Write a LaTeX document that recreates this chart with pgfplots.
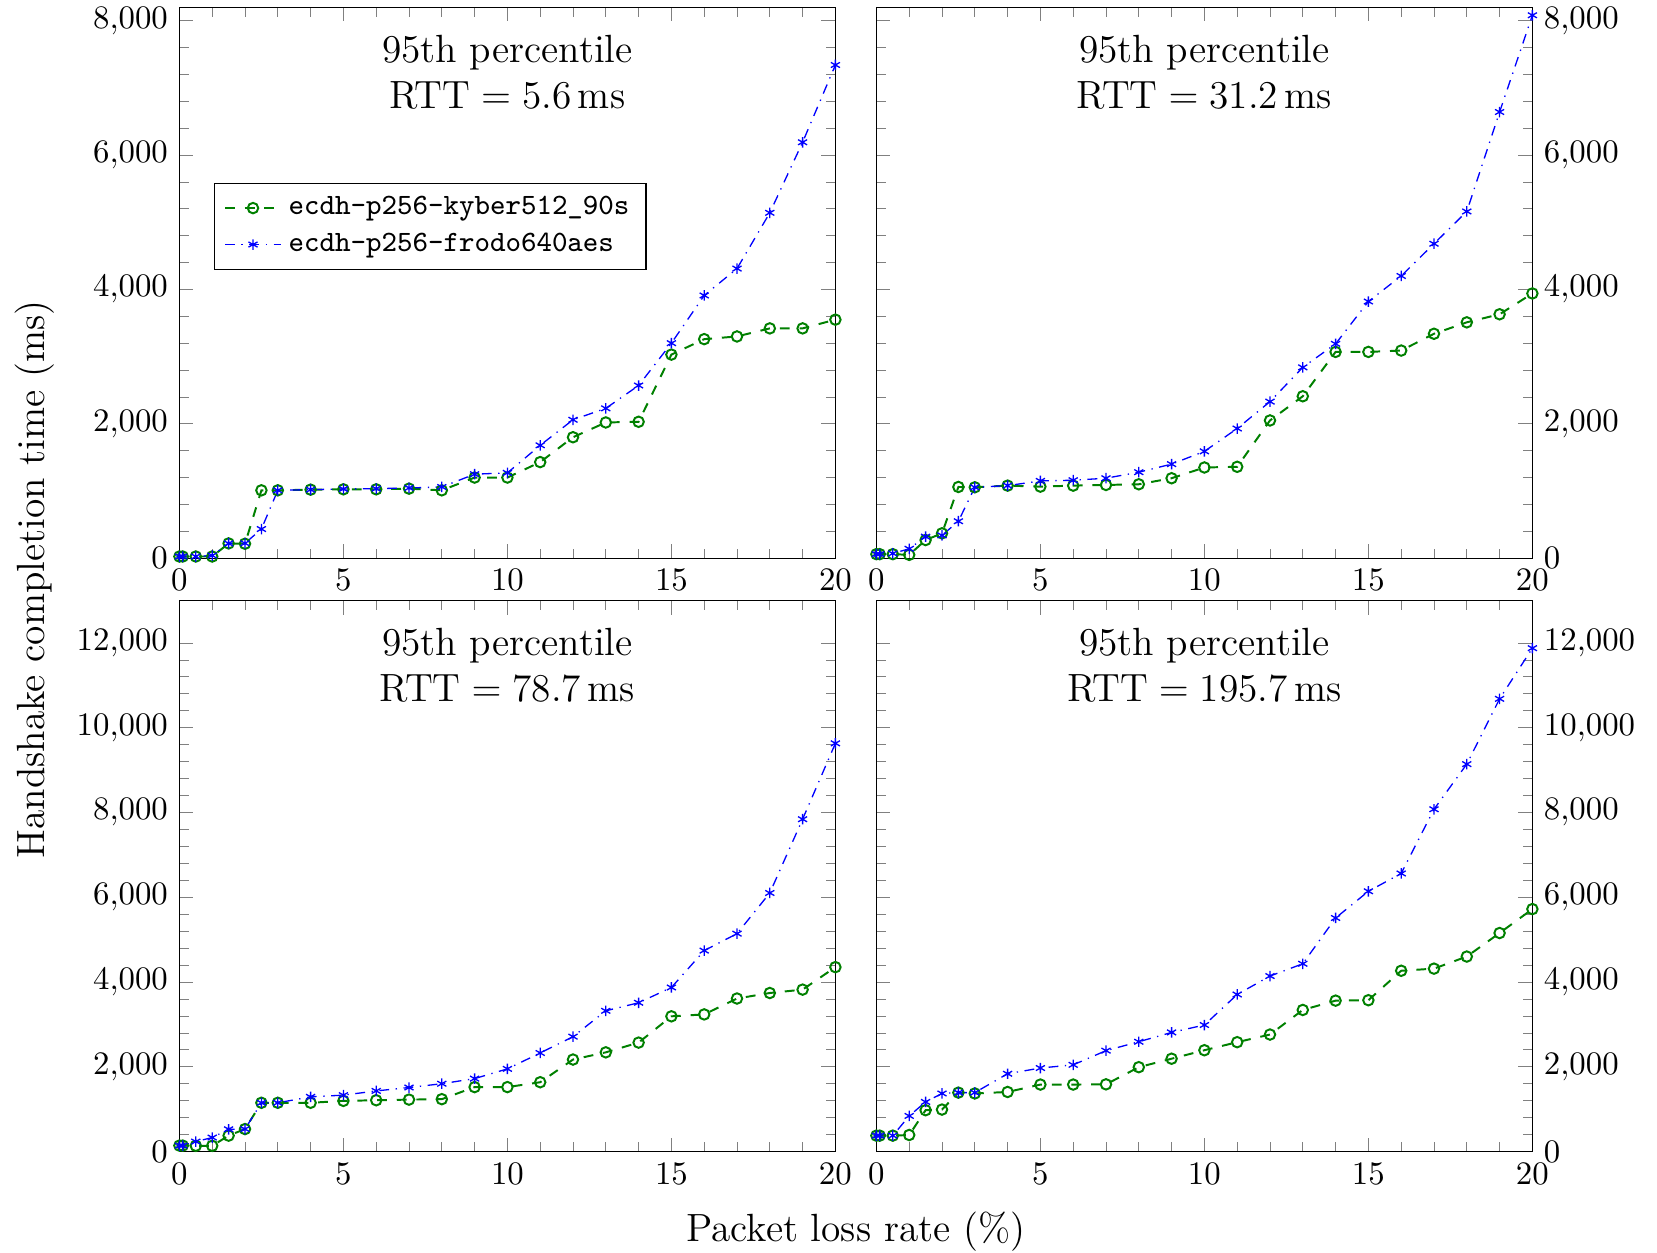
\documentclass[border=0pt]{standalone}
\usepackage{pgfplots}
\usepackage{pgfplotstable}
\usepgfplotslibrary{groupplots}
\usetikzlibrary{calc}
\pgfplotsset{compat=1.18}

% 95th percentile handshake times (ms) vs packet loss (%)
\pgfplotstableread{
x    kyber frodo
0    25    25
0.1  25    25
0.5  25    25
1    25    40
1.5  220   220
2    215   222
2.5  1010  434
3    1010  1010
4    1020  1020
5    1025  1030
6    1025  1035
7    1035  1045
8    1010  1060
9    1200  1250
10   1200  1270
11   1430  1680
12   1800  2060
13   2020  2230
14   2030  2570
15   3030  3200
16   3260  3910
17   3300  4310
18   3420  5140
19   3420  6190
20   3550  7340
}\rttA
\pgfplotstableread{
x    kyber frodo
0    60    60
0.1  60    60
0.5  60    70
1    50    140
1.5  270   320
2    370   340
2.5  1060  550
3    1055  1055
4    1080  1080
5    1065  1150
6    1080  1160
7    1090  1190
8    1100  1280
9    1190  1400
10   1350  1590
11   1360  1930
12   2050  2330
13   2410  2840
14   3070  3190
15   3070  3820
16   3090  4200
17   3340  4680
18   3510  5160
19   3630  6640
20   3940  8080
}\rttB
\pgfplotstableread{
x    kyber frodo
0    140   140
0.1  140   140
0.5  135   235
1    135   330
1.5  375   525
2    530   530
2.5  1150  1150
3    1150  1150
4    1150  1290
5    1195  1330
6    1210  1430
7    1225  1510
8    1235  1600
9    1520  1720
10   1520  1950
11   1635  2325
12   2170  2710
13   2340  3320
14   2570  3510
15   3190  3870
16   3235  4740
17   3610  5140
18   3740  6100
19   3820  7840
20   4350  9630
}\rttC
\pgfplotstableread{
x    kyber frodo
0    375   375
0.1  375   375
0.5  375   375
1    390   840
1.5  975   1170
2    990   1370
2.5  1390  1390
3    1370  1390
4    1405  1835
5    1580  1970
6    1580  2045
7    1585  2380
8    1990  2590
9    2190  2810
10   2390  2985
11   2580  3705
12   2760  4140
13   3340  4430
14   3560  5510
15   3570  6140
16   4265  6560
17   4315  8075
18   4600  9140
19   5155  10680
20   5720  11875
}\rttD

\pgfplotsset{
  kyberstyle/.style={green!50!black, semithick, dashed, mark=o, mark size=1.6pt, mark options={solid}},
  frodostyle/.style={blue, thin, dashdotted, mark=asterisk, mark size=1.6pt, mark options={solid}},
}
\tikzset{paneltitle/.style={anchor=north, align=center, font=\large, yshift=-5pt}}

\begin{document}
\begin{tikzpicture}
\begin{groupplot}[
  group style={group size=2 by 2, horizontal sep=12.5pt, vertical sep=12.9pt, group name=g},
  width=200pt, height=168pt, scale only axis,
  xmin=0, xmax=20, ymin=0,
  xtick={0,5,...,20},
  minor x tick num=4, minor y tick num=4,
  scaled y ticks=false,
  tick style={black!50},
]

\nextgroupplot[ymax=8200, ytick={0,2000,...,8000},
  legend style={at={(0.052,0.6815)}, anchor=north west, font=\small\ttfamily},
  legend cell align=left]
\addplot[kyberstyle] table[x=x, y=kyber] {\rttA};
\addlegendentry{ecdh-p256-kyber512\_90s}
\addplot[frodostyle] table[x=x, y=frodo] {\rttA};
\addlegendentry{ecdh-p256-frodo640aes}
\node[paneltitle] at (rel axis cs:0.5,1) {95th percentile\\RTT${}={}$5.6\,ms};

\nextgroupplot[ymax=8200, ytick={0,2000,...,8000}, yticklabel pos=right]
\addplot[kyberstyle] table[x=x, y=kyber] {\rttB};
\addplot[frodostyle] table[x=x, y=frodo] {\rttB};
\node[paneltitle] at (rel axis cs:0.5,1) {95th percentile\\RTT${}={}$31.2\,ms};

\nextgroupplot[ymax=13000, ytick={0,2000,...,12000}]
\addplot[kyberstyle] table[x=x, y=kyber] {\rttC};
\addplot[frodostyle] table[x=x, y=frodo] {\rttC};
\node[paneltitle] at (rel axis cs:0.5,1) {95th percentile\\RTT${}={}$78.7\,ms};

\nextgroupplot[ymax=13000, ytick={0,2000,...,12000}, yticklabel pos=right]
\addplot[kyberstyle] table[x=x, y=kyber] {\rttD};
\addplot[frodostyle] table[x=x, y=frodo] {\rttD};
\node[paneltitle] at (rel axis cs:0.5,1) {95th percentile\\RTT${}={}$195.7\,ms};
\end{groupplot}

\node[rotate=90, font=\large] at ($($(g c1r1.north west)!0.5!(g c1r2.south west)$)+(-44pt,0)$) {Handshake completion time (ms)};
\node[anchor=base, font=\large] at ($($(g c1r2.south west)!0.5!(g c2r2.south east)$)+(0,-27.4pt)$) {Packet loss rate (\%)};
% fix the page to the reference canvas
\pgfresetboundingbox
\path ($(g c1r1.north west)+(-54.7pt,2.2pt)$) rectangle ($(g c1r1.north west)+(450.5pt,-379.8pt)$);
\end{tikzpicture}
\end{document}
